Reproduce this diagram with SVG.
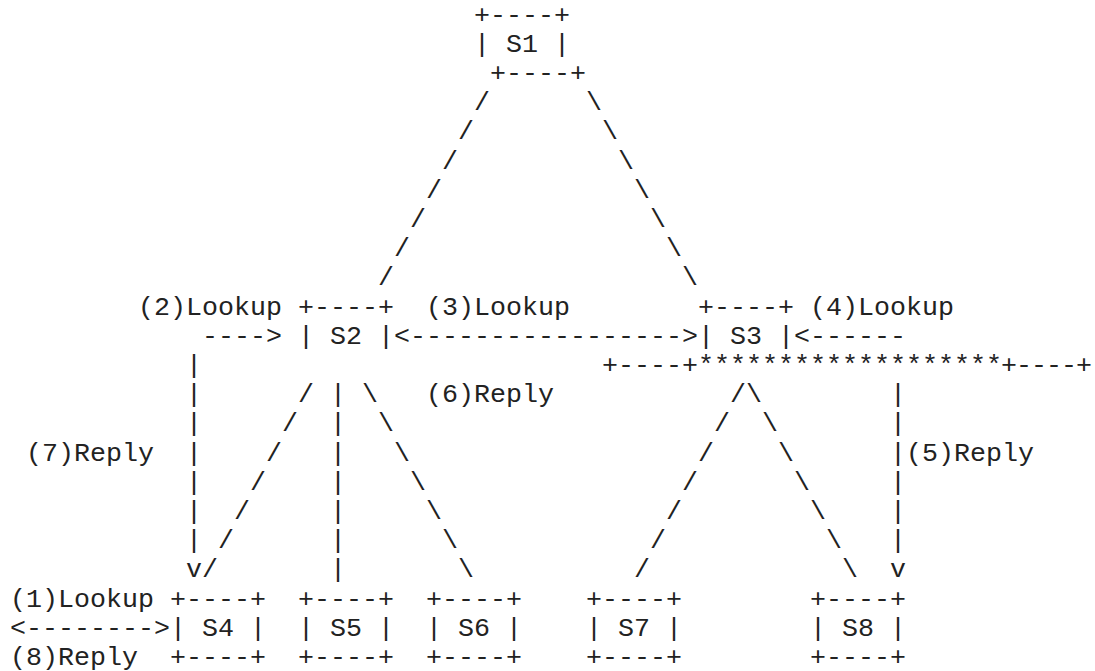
<svg xmlns="http://www.w3.org/2000/svg" width="1095" height="671" viewBox="0 0 1095 671" xml:space="preserve">
<style>
text { font-family: "Liberation Mono", "Courier New", monospace; font-size: 26.67px; fill: #222222; white-space: pre; }
</style>
<rect x="0" y="0" width="1095" height="671" fill="#ffffff"/>
<g id="S1">
<text x="474" y="22.5">+----+</text>
<text x="474" y="51.7">| S1 |</text>
<text x="490" y="80.9">+----+</text>
</g>
<g id="S2">
<text x="298" y="314.5">+----+</text>
<text x="298" y="343.7">| S2 |</text>
</g>
<g id="S3">
<text x="698" y="314.5">+----+</text>
<text x="698" y="343.7">| S3 |</text>
<text x="602" y="372.9">+----+*******************</text>
<text x="1001" y="372.9" textLength="91" lengthAdjust="spacing">+----+</text>
</g>
<g id="S4">
<text x="170" y="606.5">+----+</text>
<text x="170" y="635.7">| S4 |</text>
<text x="170" y="664.9">+----+</text>
</g>
<g id="S5">
<text x="298" y="606.5">+----+</text>
<text x="298" y="635.7">| S5 |</text>
<text x="298" y="664.9">+----+</text>
</g>
<g id="S6">
<text x="426" y="606.5">+----+</text>
<text x="426" y="635.7">| S6 |</text>
<text x="426" y="664.9">+----+</text>
</g>
<g id="S7">
<text x="586" y="606.5">+----+</text>
<text x="586" y="635.7">| S7 |</text>
<text x="586" y="664.9">+----+</text>
</g>
<g id="S8">
<text x="810" y="606.5">+----+</text>
<text x="810" y="635.7">| S8 |</text>
<text x="810" y="664.9">+----+</text>
</g>
<g id="labels">
<text x="138" y="314.5">(2)Lookup</text>
<text x="426" y="314.5">(3)Lookup</text>
<text x="810" y="314.5">(4)Lookup</text>
<text x="426" y="402.1">(6)Reply</text>
<text x="26" y="460.5">(7)Reply</text>
<text x="906" y="460.5">(5)Reply</text>
<text x="10" y="606.5">(1)Lookup</text>
<text x="10" y="664.9">(8)Reply</text>
</g>
<g id="connectors">
<!-- S1 to S2 -->
<text x="474" y="110.1">/</text>
<text x="458" y="139.3">/</text>
<text x="442" y="168.5">/</text>
<text x="426" y="197.7">/</text>
<text x="410" y="226.9">/</text>
<text x="394" y="256.1">/</text>
<text x="378" y="285.3">/</text>
<!-- S1 to S3 -->
<text x="586" y="110.1">\</text>
<text x="602" y="139.3">\</text>
<text x="618" y="168.5">\</text>
<text x="634" y="197.7">\</text>
<text x="650" y="226.9">\</text>
<text x="666" y="256.1">\</text>
<text x="682" y="285.3">\</text>
<!-- arrows -->
<text x="202" y="343.7">----&gt;</text>
<text x="394" y="343.7">&lt;-----------------&gt;</text>
<text x="794" y="343.7">&lt;------</text>
<text x="10" y="635.7">&lt;--------&gt;</text>
<!-- (7) reply vertical -->
<text x="186" y="372.9">|</text>
<text x="186" y="402.1">|</text>
<text x="186" y="431.3">|</text>
<text x="186" y="460.5">|</text>
<text x="186" y="489.7">|</text>
<text x="186" y="518.9">|</text>
<text x="186" y="548.1">|</text>
<text x="186" y="577.3">v</text>
<!-- S2 to S4 -->
<text x="298" y="402.1">/</text>
<text x="282" y="431.3">/</text>
<text x="266" y="460.5">/</text>
<text x="250" y="489.7">/</text>
<text x="234" y="518.9">/</text>
<text x="218" y="548.1">/</text>
<text x="202" y="577.3">/</text>
<!-- S2 to S5 -->
<text x="330" y="402.1">|</text>
<text x="330" y="431.3">|</text>
<text x="330" y="460.5">|</text>
<text x="330" y="489.7">|</text>
<text x="330" y="518.9">|</text>
<text x="330" y="548.1">|</text>
<text x="330" y="577.3">|</text>
<!-- S2 to S6 -->
<text x="362" y="402.1">\</text>
<text x="378" y="431.3">\</text>
<text x="394" y="460.5">\</text>
<text x="410" y="489.7">\</text>
<text x="426" y="518.9">\</text>
<text x="442" y="548.1">\</text>
<text x="458" y="577.3">\</text>
<!-- S3 to S7 -->
<text x="730" y="402.1">/</text>
<text x="714" y="431.3">/</text>
<text x="698" y="460.5">/</text>
<text x="682" y="489.7">/</text>
<text x="666" y="518.9">/</text>
<text x="650" y="548.1">/</text>
<text x="634" y="577.3">/</text>
<!-- S3 to S8 -->
<text x="746" y="402.1">\</text>
<text x="762" y="431.3">\</text>
<text x="778" y="460.5">\</text>
<text x="794" y="489.7">\</text>
<text x="810" y="518.9">\</text>
<text x="826" y="548.1">\</text>
<text x="842" y="577.3">\</text>
<!-- (5) reply vertical -->
<text x="890" y="402.1">|</text>
<text x="890" y="431.3">|</text>
<text x="890" y="460.5">|</text>
<text x="890" y="489.7">|</text>
<text x="890" y="518.9">|</text>
<text x="890" y="548.1">|</text>
<text x="890" y="577.3">v</text>
</g>
</svg>
